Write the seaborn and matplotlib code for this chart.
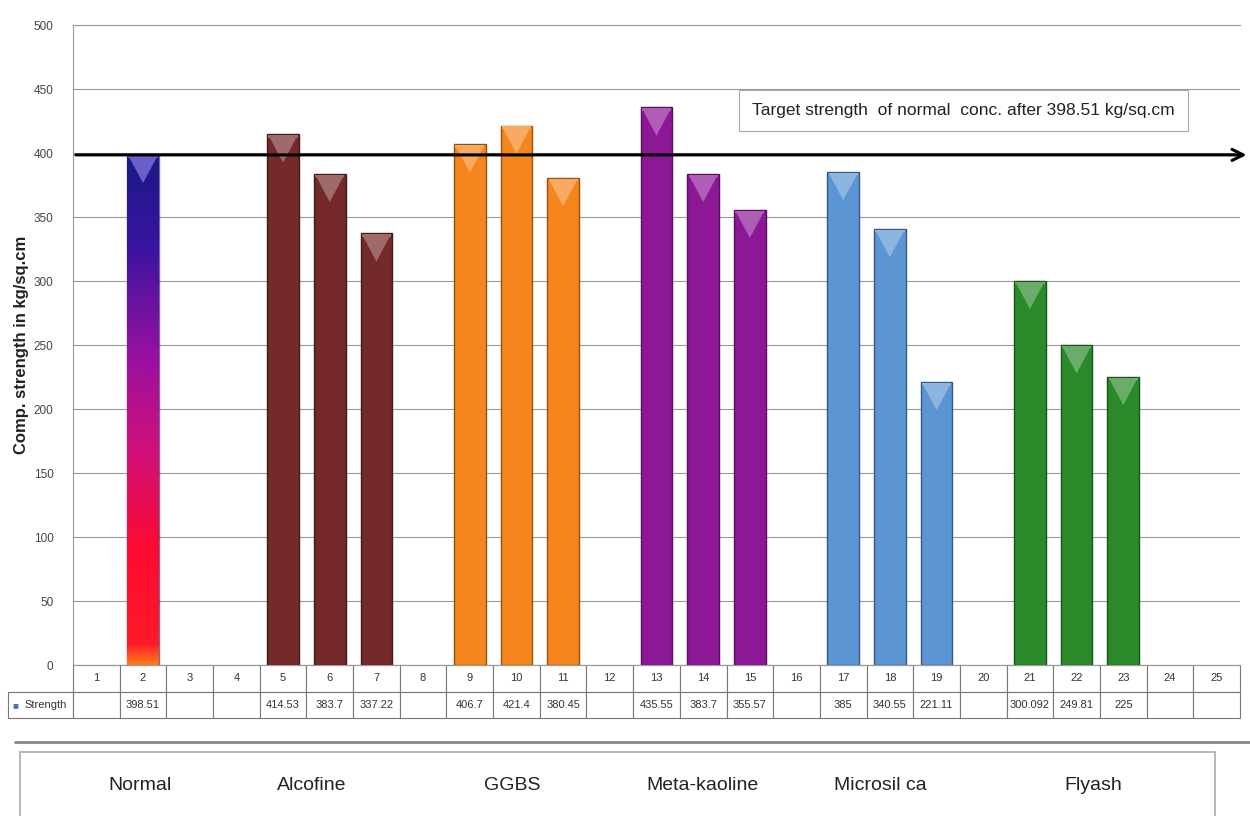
import numpy as np
import pandas as pd
import matplotlib.pyplot as plt
import matplotlib.transforms as mtransforms
import seaborn as sns
from matplotlib.colors import LinearSegmentedColormap, to_rgb
from matplotlib.patches import Polygon, Rectangle
from matplotlib.lines import Line2D

# Data
positions = list(range(1, 26))
strength = [None, 398.51, None, None, 414.53, 383.7, 337.22, None, 406.7, 421.4, 380.45, None,
            435.55, 383.7, 355.57, None, 385, 340.55, 221.11, None, 300.092, 249.81, 225, None, None]
strength_labels = ['', '398.51', '', '', '414.53', '383.7', '337.22', '', '406.7', '421.4', '380.45', '',
                   '435.55', '383.7', '355.57', '', '385', '340.55', '221.11', '', '300.092', '249.81', '225', '', '']
groups = [None, 'Normal', None, None, 'Alcofine', 'Alcofine', 'Alcofine', None, 'GGBS', 'GGBS', 'GGBS', None,
          'Meta-kaoline', 'Meta-kaoline', 'Meta-kaoline', None, 'Microsilica', 'Microsilica', 'Microsilica', None,
          'Flyash', 'Flyash', 'Flyash', None, None]
group_names = ['Normal', 'Alcofine', 'GGBS', 'Meta-kaoline', 'Microsil ca', 'Flyash']
group_x = [140, 312, 512, 702, 880, 1093]  # pixel centres of the labels
group_colors = {'Normal': '#5a12a0', 'Alcofine': '#742a2a', 'GGBS': '#f5851c',
                'Meta-kaoline': '#8c1896', 'Microsilica': '#5b95d3', 'Flyash': '#2a8a2a'}
target = 398.51

df = pd.DataFrame({'pos': positions, 'strength': strength, 'group': groups})
df = df.dropna()

W, H = 1250, 816
sns.set_style('white')
plt.rcParams['font.family'] = ['Liberation Sans', 'DejaVu Sans']
fig = plt.figure(figsize=(12.5, 8.16), dpi=100)
ax = fig.add_axes([73 / W, 1 - 665 / H, (1240 - 73) / W, (665 - 25) / H])

sns.barplot(data=df, x='pos', y='strength', hue='group', palette=group_colors, saturation=1,
            order=positions, width=0.68, dodge=False, legend=False, ax=ax)

# bevelled tops and the gradient of the Normal bar
grad = LinearSegmentedColormap.from_list('g', [(0, '#ff7a1a'), (0.04, '#ff1a2a'), (0.22, '#ff0a30'),
                                               (0.42, '#d0107a'), (0.6, '#9a10a0'), (0.82, '#3a14a0'),
                                               (1, '#1a1a86')])
for p in ax.patches:
    x0, w, h = p.get_x(), p.get_width(), p.get_height()
    c = np.array(to_rgb(p.get_facecolor()))
    if abs(h - target) < 1e-6:
        p.set_facecolor('none')
        img = np.linspace(0, 1, 256).reshape(-1, 1)
        im = ax.imshow(img, cmap=grad, origin='lower', aspect='auto',
                       extent=(x0, x0 + w, 0, h), zorder=p.get_zorder())
        im.set_clip_path(p)
        c = np.array(to_rgb('#2a1ab0'))
        p.set_edgecolor((0.1, 0.05, 0.35, 0.6))
    else:
        p.set_edgecolor(c * 0.6)
    p.set_linewidth(1.0)
    light = c + (1 - c) * 0.3
    tri = Polygon([(x0 + w * 0.06, h - 1.5), (x0 + w * 0.94, h - 1.5), (x0 + w / 2, h - 22)], closed=True,
                  facecolor=light, edgecolor='none', zorder=3)
    ax.add_patch(tri)
    ax.add_patch(Rectangle((x0 + w * 0.04, h - 2.5), w * 0.92, 2, facecolor=light, edgecolor='none', zorder=3))

ax.set_xlim(-0.5, 24.5)
ax.set_ylim(0, 500)
ax.set_yticks(range(0, 501, 50))
ax.tick_params(axis='y', labelsize=8.5, labelcolor='#444444', length=0, pad=14)
ax.set_xticks([])
ax.set_xlabel('')
ax.set_ylabel('Comp. strength in kg/sq.cm', fontsize=12, fontweight='bold', color='#222222')
ax.yaxis.set_label_coords(-0.038, 0.5)
ax.grid(axis='y', color='#9a9a9a', linewidth=0.8)
ax.set_axisbelow(True)
for s in ax.spines.values():
    s.set_color('#9a9a9a')
ax.spines['right'].set_visible(False)

# target arrow and its label
ax.annotate('', xy=(1.008, target), xytext=(0, target),
            xycoords=('axes fraction', 'data'), textcoords=('axes fraction', 'data'),
            arrowprops=dict(arrowstyle='->', color='black', lw=2.2, mutation_scale=20),
            annotation_clip=False, zorder=5)
blend = mtransforms.blended_transform_factory(ax.transAxes, ax.transData)
ax.text((752 - 73) / 1167, 433, 'Target strength  of normal  conc. after 398.51 kg/sq.cm',
        transform=blend, fontsize=12.5, va='center', ha='left', color='#222222',
        bbox=dict(boxstyle='square,pad=0.75', facecolor='white', edgecolor='#aaaaaa', linewidth=0.8))

# data table under the axis
cell_text = [[''] + [str(p) for p in positions], ['Strength'] + strength_labels]
col_w = [65] + [1167 / 25] * 25
tbl = ax.table(cellText=cell_text, cellLoc='center', colWidths=[c / 1232 for c in col_w],
               bbox=[-65 / 1167, -53 / 640, 1232 / 1167, 53 / 640])
tbl.auto_set_font_size(False)
tbl.set_fontsize(8)
for (r, c), cell in tbl.get_celld().items():
    cell.set_edgecolor('#777777')
    cell.set_linewidth(0.8)
    cell.get_text().set_color('#333333')
    if r == 0 and c == 0:
        cell.visible_edges = 'B'
    if r == 1 and c == 0:
        cell.get_text().set_ha('left')
        cell.PAD = 0.25
ax.text(-61 / 1167, -40 / 640, '\u25a0', transform=ax.transAxes, color='#4a6fb5',
        fontsize=7, va='center', ha='left')

# group label strip
fig.add_artist(Line2D([15 / W, 1.0], [1 - 742 / H] * 2, color='#888888', lw=2))
fig.add_artist(Rectangle((20 / W, -0.01), (1215 - 20) / W, 0.01 + 1 - 752 / H,
                         facecolor='white', edgecolor='#aaaaaa', lw=1.2))
for name, gx in zip(group_names, group_x):
    fig.text(gx / W, 1 - 785 / H, name, fontsize=14, ha='center', va='center',
             color='#222222')

fig.savefig('out.png', dpi=100)
